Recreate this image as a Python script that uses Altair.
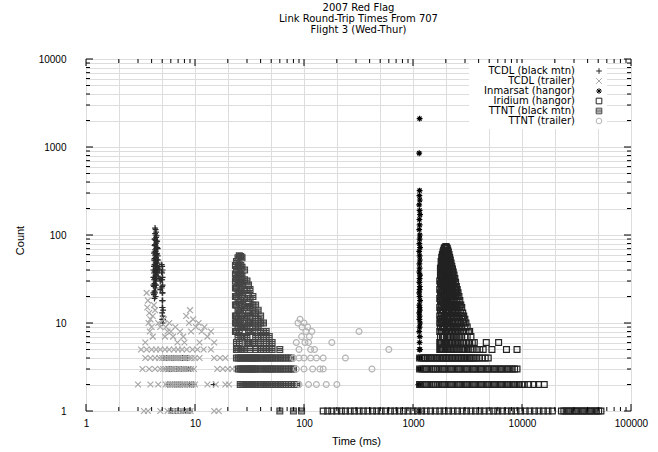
import altair as alt
import pandas as pd

TITLE = ["2007 Red Flag", "Link Round-Trip Times From 707", "Flight 3 (Wed-Thur)"]
X_TITLE = "Time (ms)"
Y_TITLE = "Count"

SERIES = ["TCDL (black mtn)", "TCDL (trailer)", "Inmarsat (hangor)",
          "Iridium (hangor)", "TTNT (black mtn)", "TTNT (trailer)"]
COLORS = ["#2a2a2a", "#a8a8a8", "#000000", "#222222", "#444444", "#b4b4b4"]
SHAPES = ["M-1,0H1M0,-1V1",
          "M-1,-1L1,1M-1,1L1,-1",
          "M-1,0H1M0,-1V1M-0.7,-0.7L0.7,0.7M-0.7,0.7L0.7,-0.7",
          "M-1,-1H1V1H-1Z",
          "M-1,-1H1V1H-1ZM-1,-0.33H1M-1,0.33H1",
          "circle"]

# ---- data: {time_ms: [counts]} columns and {count: [time_ms]} rows ----
TCDL_BM_COLS = {4.15: [40, 33, 27, 22], 4.2: [62, 52, 44, 37, 31, 26, 21],
                4.25: [90, 76, 64, 54, 46, 39, 33, 28, 23, 19],
                4.3: [120, 104, 90, 78, 68, 59, 51, 44, 38, 32, 27, 22],
                4.35: [115, 100, 87, 75, 65, 56, 48, 41, 35, 30, 25, 20],
                4.4: [108, 94, 81, 70, 60, 52, 45, 38, 32, 27],
                4.45: [98, 84, 72, 62, 53, 45, 38, 32], 4.5: [85, 72, 61, 52, 44, 37],
                4.55: [70, 58, 48, 40], 4.6: [52, 42, 34], 4.7: [40, 32], 4.8: [30, 24],
                4.95: [46, 38, 31, 25], 5.0: [44, 37, 31, 26, 22, 18, 15, 13, 11],
                5.05: [40, 33, 27, 22, 18, 15, 12, 10], 5.1: [14, 11]}
TCDL_BM_ROWS = {4: [5.2, 5.5, 5.8, 6.1, 6.4, 6.7, 7.0, 7.3, 7.7, 8.1, 8.5],
                3: [5.5, 5.8, 6.1, 6.4, 6.8, 7.1, 7.5, 7.9, 8.3, 8.7, 9.1],
                2: [5.6, 5.9, 6.2, 6.5, 6.8, 7.1, 7.4, 7.7, 8.1, 8.5, 8.9, 9.3, 9.7, 14.8],
                1: [5.9, 6.2, 6.6, 7.0, 7.4, 7.8, 8.2, 8.6, 9.0]}

TCDL_TR_COLS = {3.5: [6], 3.6: [22], 3.65: [15], 3.7: [18], 3.75: [10], 3.8: [13],
                3.85: [8], 3.9: [11], 4.0: [9], 4.1: [7, 12], 4.2: [16], 4.3: [14],
                4.6: [10], 4.8: [9], 5.2: [11], 5.3: [7], 5.4: [9], 5.6: [8], 5.8: [10],
                6.0: [8], 6.3: [7], 6.6: [9], 6.9: [6], 7.3: [8], 7.8: [7], 8.0: [6],
                8.3: [12], 8.8: [10], 9.0: [14], 9.2: [8], 9.6: [11], 10.2: [9],
                10.8: [10], 11.0: [6], 11.5: [8], 12.2: [9], 13.0: [7], 14.0: [8], 15.0: [6]}
TCDL_TR_ROWS = {5: [3.2, 3.6, 4.0, 4.4, 4.8, 5.3, 5.8, 6.4, 7.0, 7.6, 8.4, 9.5, 10.5, 12, 14],
                4: [3.5, 3.9, 4.3, 4.7, 5.0, 5.3, 5.6, 5.9, 6.2, 6.5, 6.8, 7.1, 7.5, 7.9,
                    8.3, 8.8, 9.3, 10.0, 11, 15, 17, 19],
                3: [3.3, 3.8, 4.3, 4.8, 5.1, 5.4, 5.7, 6.0, 6.3, 6.6, 7.0, 7.4, 7.8, 8.2,
                    8.7, 9.2, 9.8, 16, 18, 20, 22, 24],
                2: [3.0, 3.9, 4.6, 5.4, 5.7, 6.0, 6.3, 6.6, 6.9, 7.2, 7.6, 8.0, 8.4, 8.9,
                    9.5, 10, 13, 15.5, 19, 20.5],
                1: [3.4, 3.7, 4.8, 5.6, 6.0, 6.4, 6.8, 7.2, 7.7, 8.2, 8.7, 9.1, 15, 16.5]}

INMARSAT_COLS = {1140: [850, 220, 115, 65, 38, 22, 13, 8, 4, 3],
                 1145: [280, 150, 80, 47, 29, 16, 11, 5, 1],
                 1150: [2100, 320, 190, 130, 90, 58, 42, 32, 24, 20, 15, 12, 9, 6, 4, 2],
                 1155: [250, 100, 52, 26, 14, 7],
                 1160: [170, 72, 35, 18, 10, 5, 3],
                 1170: [4], 1180: [3], 1120: [2]}

IRIDIUM_COLS = {1760: [30, 24, 19, 15, 12, 10, 8, 6, 5],
                1785: [42, 35, 28, 22, 18, 14, 11, 9, 7, 6, 5],
                1810: [50, 42, 35, 29, 24, 20, 16, 13, 10, 8, 6, 5],
                1835: [56, 48, 41, 34, 28, 23, 19, 15, 12, 10, 8, 6, 5],
                1860: [60, 52, 45, 38, 32, 27, 22, 18, 14, 11, 9, 7, 5],
                1885: [64, 56, 48, 41, 35, 29, 24, 20, 16, 13, 10, 8, 6],
                1910: [67, 59, 51, 44, 37, 31, 26, 21, 17, 14, 11, 9, 7, 5],
                1935: [70, 62, 54, 46, 39, 33, 27, 22, 18, 15, 12, 9, 7, 6],
                1960: [72, 63, 55, 47, 40, 34, 28, 23, 19, 15, 12, 10, 8, 6, 5],
                1985: [73, 64, 56, 48, 41, 35, 29, 24, 19, 16, 13, 10, 8, 6],
                2010: [74, 65, 57, 49, 42, 35, 29, 24, 20, 16, 13, 10, 8, 6, 5],
                2035: [72, 63, 55, 47, 40, 34, 28, 23, 19, 15, 12, 10, 8, 6],
                2060: [70, 61, 53, 45, 38, 32, 27, 22, 18, 14, 11, 9, 7, 5],
                2085: [67, 58, 50, 43, 36, 30, 25, 21, 17, 14, 11, 9, 7, 5],
                2110: [64, 55, 47, 40, 34, 29, 24, 20, 16, 13, 10, 8, 6],
                2140: [60, 52, 44, 37, 31, 26, 22, 18, 15, 12, 9, 7, 5],
                2170: [56, 48, 41, 35, 29, 24, 20, 16, 13, 10, 8, 6],
                2200: [52, 45, 38, 32, 27, 22, 18, 15, 12, 9, 7, 5],
                2235: [48, 41, 35, 29, 24, 20, 16, 13, 10, 8, 6],
                2270: [44, 38, 32, 27, 22, 18, 15, 12, 9, 7, 5],
                2305: [41, 35, 29, 24, 20, 16, 13, 10, 8, 6],
                2340: [38, 32, 27, 22, 18, 15, 12, 9, 7, 5],
                2380: [35, 29, 24, 20, 16, 13, 10, 8, 6],
                2420: [32, 26, 22, 18, 15, 12, 9, 7, 5],
                2460: [29, 24, 20, 16, 13, 10, 8, 6],
                2500: [26, 22, 18, 15, 12, 9, 7, 5],
                2545: [24, 20, 16, 13, 10, 8, 6],
                2590: [22, 18, 15, 12, 9, 7, 5],
                2640: [20, 16, 13, 10, 8, 6],
                2690: [18, 15, 12, 9, 7, 5],
                2745: [16, 13, 10, 8, 6],
                2800: [15, 12, 9, 7, 5],
                2860: [13, 11, 8, 6],
                2920: [12, 10, 8, 6, 5],
                2990: [11, 9, 7, 5],
                3060: [10, 8, 6],
                3140: [9, 7, 5],
                3220: [8, 6, 5],
                3310: [8, 6],
                3400: [7, 5],
                3500: [6, 5],
                3650: [6], 3800: [5], 4100: [5], 4400: [5], 4700: [6], 5300: [5],
                6100: [6], 7200: [5], 9000: [5]}
IRIDIUM_ROWS = {4: [1150, 1200, 1250, 1300, 1350, 1400, 1450, 1500, 1560, 1620, 1680, 1740,
                    1800, 1860, 1920, 1980, 2040, 2100, 2170, 2240, 2310, 2380, 2460, 2540,
                    2620, 2700, 2790, 2880, 2980, 3080, 3190, 3300, 3420, 3550, 3700, 3850,
                    4050, 4300, 4600, 4900],
                3: [1150, 1210, 1270, 1330, 1400, 1470, 1540, 1610, 1690, 1770, 1860, 1950,
                    2050, 2150, 2260, 2370, 2490, 2610, 2740, 2880, 3020, 3170, 3330, 3500,
                    3680, 3860, 4050, 4250, 4470, 4700, 4940, 5200, 5460, 5740, 6030, 6340,
                    6660, 7000, 7360, 7740, 8130, 8550, 9000],
                2: [1150, 1210, 1270, 1330, 1400, 1470, 1540, 1610, 1690, 1770, 1860, 1950,
                    2050, 2150, 2260, 2370, 2490, 2610, 2740, 2880, 3020, 3170, 3330, 3500,
                    3680, 3860, 4050, 4250, 4470, 4700, 4940, 5200, 5460, 5740, 6030, 6340,
                    6660, 7000, 7360, 7740, 8130, 8550, 9000, 9450, 9950, 10500, 11500,
                    12800, 14200, 16000],
                1: [150, 165, 180, 200, 220, 240, 265, 290, 320, 350, 385, 425, 465, 510,
                    560, 620, 680, 750, 820, 900, 1000, 1100, 1200, 1320, 1450, 1600, 1760,
                    1930, 2120, 2330, 2560, 2820, 3100, 3400, 3750, 4100, 4500, 5000, 5500,
                    6000, 6600, 7300, 8000, 8800, 9700, 10700, 11800, 13000, 14300, 15700,
                    17300, 19000, 23000, 24200, 25400, 26700, 28000, 29400, 30900, 32500,
                    34100, 35800, 37600, 39500, 41500, 43600, 45800, 48100, 50500, 53000]}

TTNT_BM_COLS = {23.5: [45, 36, 30, 25, 20, 16, 12, 10, 8],
                24: [50, 40, 32, 25, 20, 16, 12, 10, 8, 6, 5],
                24.8: [55, 44, 35, 28, 22, 18, 14, 11, 9, 7, 5],
                25.5: [58, 46, 36, 28, 22, 17, 13, 10, 8, 6],
                26.3: [57, 45, 36, 29, 23, 18, 14, 11, 9, 7, 5],
                27: [55, 43, 34, 27, 21, 16, 12, 9, 7, 5],
                28.5: [40, 31, 24, 19, 15, 11, 9, 7, 5],
                30: [30, 24, 19, 15, 12, 9, 7, 6],
                31: [27, 21, 17, 13, 10, 8, 6],
                32: [24, 19, 15, 12, 10, 8, 6, 5],
                34: [20, 16, 13, 10, 8, 6],
                36: [16, 13, 11, 9, 7, 5],
                38: [14, 11, 9, 7, 6],
                40: [12, 10, 8, 6, 5],
                42.5: [10, 8, 7, 5],
                45: [8, 7, 6, 5],
                48: [7, 6, 5],
                51: [6, 5],
                60: [5]}
TTNT_BM_ROWS = {4: [24, 25, 26, 27, 28, 29, 30, 31, 32, 33, 34, 35, 36, 37, 38, 40, 42, 44,
                    46, 48, 50, 52, 55, 58, 61, 64, 68, 72, 76],
                3: [25, 26, 27, 28, 29, 30, 31, 32, 33, 34, 35, 36, 38, 40, 42, 44, 46, 48,
                    50, 52, 55, 58, 61, 64, 68, 72, 76, 80],
                2: [26, 27, 28, 29, 30, 31, 32, 33, 34, 35, 36, 38, 40, 42, 44, 46, 48, 50,
                    52, 55, 58, 61, 64, 68, 72, 76, 81, 86],
                1: [60, 80, 95]}

TTNT_TR_COLS = {85: [6], 88: [10], 90: [5], 92: [11], 95: [7], 96: [9], 100: [10],
                102: [6], 104: [8], 108: [9], 110: [6], 112: [7], 115: [5], 118: [8],
                125: [5], 150: [3], 180: [6], 240: [4], 320: [8], 420: [3], 600: [5]}
TTNT_TR_ROWS = {4: [80, 90, 100, 115, 130, 150], 3: [85, 100, 120, 140],
                2: [90, 110, 130, 160, 200]}

DATA = [
    (SERIES[0], TCDL_BM_COLS, TCDL_BM_ROWS),
    (SERIES[1], TCDL_TR_COLS, TCDL_TR_ROWS),
    (SERIES[2], INMARSAT_COLS, {}),
    (SERIES[3], IRIDIUM_COLS, IRIDIUM_ROWS),
    (SERIES[4], TTNT_BM_COLS, TTNT_BM_ROWS),
    (SERIES[5], TTNT_TR_COLS, TTNT_TR_ROWS),
]

X_DECADES = [1, 10, 100, 1000, 10000, 100000]
Y_DECADES = [1, 10, 100, 1000, 10000]
X_GRID = [1, 2, 5, 10, 20, 50, 100, 200, 500, 1000, 2000, 5000, 10000, 20000, 50000, 100000]
MULTS = [2, 3, 4, 5, 6, 7, 8, 9]

records = []
for name, cols, rws in DATA:
    for t, cs in cols.items():
        for c in cs:
            records.append({"series": name, "t": t, "c": c})
    for c, ts in rws.items():
        for t in ts:
            records.append({"series": name, "t": t, "c": c})
df = pd.DataFrame(records)

x_minor = [m * d for d in X_DECADES[:-1] for m in MULTS]
y_minor = [m * d for d in Y_DECADES[:-1] for m in MULTS]
y_all = sorted(Y_DECADES + y_minor)

W, H = 545, 352
FONT = "DejaVu Sans"

xs = alt.Scale(type="log", domain=[1, 100000], nice=False)
ys = alt.Scale(type="log", domain=[1, 10000], nice=False)

dec_x = "indexof([1,10,100,1000,10000,100000], datum.value) >= 0 ? datum.label : ''"
dec_y = "indexof([1,10,100,1000,10000], datum.value) >= 0 ? datum.label : ''"

XAX = alt.Axis(values=X_GRID, format="d", labelExpr=dec_x, grid=True,
               ticks=False, tickSize=0, domain=False, labelPadding=7,
               labelFlush=False, labelOverlap=False,
               titleX=270, titleY=30, titleBaseline="middle", titleFontWeight="normal")
YAX = alt.Axis(values=y_all, format="d", labelExpr=dec_y, grid=True,
               ticks=False, tickSize=0, domain=False, labelPadding=20,
               labelOverlap=False, labelFlush=False, titleFontWeight="normal",
               titleX=-66, titleY=181, titleBaseline="middle", titleAlign="center")

LEGEND = dict(title=None, orient="none", legendX=383, legendY=4,
              labelAlign="right", labelOffset={"expr": "-29"}, symbolOffset=122,
              labelFontSize=10, labelFont=FONT, labelColor="black",
              symbolSize=32, symbolStrokeWidth=1, rowPadding={"expr": "-1.2"},
              fillColor="white", padding=3, labelLimit=300)

points = alt.Chart(df).mark_point(filled=False, size=34, strokeWidth=1.2, opacity=1).encode(
    x=alt.X("t:Q", scale=xs, title=X_TITLE, axis=XAX),
    y=alt.Y("c:Q", scale=ys, title=Y_TITLE, axis=YAX),
    color=alt.Color("series:N", scale=alt.Scale(domain=SERIES, range=COLORS),
                    legend=alt.Legend(**LEGEND)),
    shape=alt.Shape("series:N", scale=alt.Scale(domain=SERIES, range=SHAPES),
                    legend=alt.Legend(**LEGEND)),
)

xt_major = pd.DataFrame({"v": X_DECADES})
xt_minor = pd.DataFrame({"v": x_minor})
yt_major = pd.DataFrame({"v": Y_DECADES})
yt_minor = pd.DataFrame({"v": y_minor})


def xticks(d, ln):
    b = alt.Chart(d).mark_rule(color="black", strokeWidth=1).encode(
        x=alt.X("v:Q", scale=xs, title=X_TITLE, axis=XAX),
        y=alt.value(H), y2=alt.value(H - ln))
    t = alt.Chart(d).mark_rule(color="black", strokeWidth=1).encode(
        x=alt.X("v:Q", scale=xs, title=X_TITLE, axis=XAX),
        y=alt.value(0), y2=alt.value(ln))
    return [b, t]


def yticks(d, ln):
    l = alt.Chart(d).mark_rule(color="black", strokeWidth=1).encode(
        y=alt.Y("v:Q", scale=ys, title=Y_TITLE, axis=YAX),
        x=alt.value(0), x2=alt.value(ln))
    r = alt.Chart(d).mark_rule(color="black", strokeWidth=1).encode(
        y=alt.Y("v:Q", scale=ys, title=Y_TITLE, axis=YAX),
        x=alt.value(W), x2=alt.value(W - ln))
    return [l, r]


layers = [points] + xticks(xt_major, 7) + xticks(xt_minor, 4) + yticks(yt_major, 7) + yticks(yt_minor, 4)

chart = alt.layer(*layers).properties(
    width=W, height=H,
    title=alt.TitleParams(text=TITLE, fontSize=10, font=FONT, fontWeight="normal",
                          anchor="middle", offset=19, lineHeight=11, color="black"),
    autosize=alt.AutoSizeParams(type="none"),
    padding={"left": 86, "top": 59, "right": 27, "bottom": 41},
).configure_view(
    stroke="black", strokeWidth=1.5
).configure_axis(
    gridColor="#555555", gridDash=[1, 3], gridWidth=1, gridOpacity=1,
    labelFont=FONT, labelFontSize=10, labelColor="black",
    titleFont=FONT, titleFontSize=10, titleColor="black", titleFontWeight="normal",
).configure(background="white")

chart.save("out.html", embed_options={"renderer": "svg", "actions": False})
